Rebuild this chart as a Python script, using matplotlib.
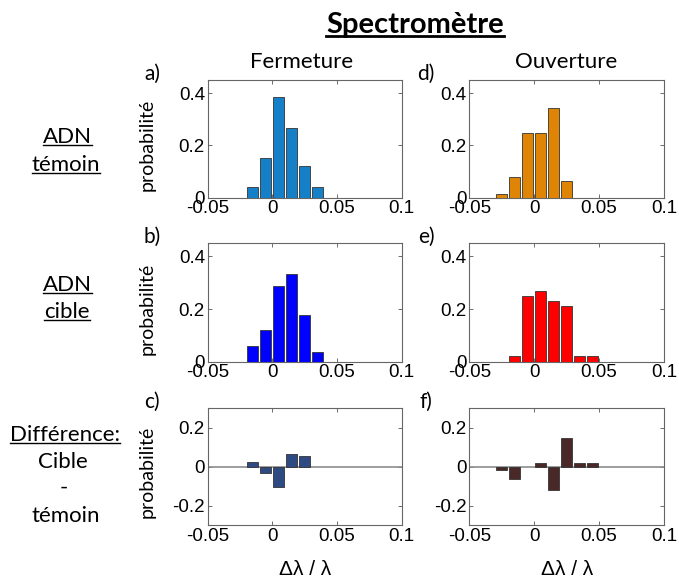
import numpy as np
import matplotlib
matplotlib.use('Agg')
import matplotlib.pyplot as plt
from matplotlib.lines import Line2D

# centres des classes (largeur 0.01)
centres_a = [-0.015, -0.005, 0.005, 0.015, 0.025, 0.035]
temoin_ferm = [0.041, 0.152, 0.385, 0.266, 0.121, 0.041]
cible_ferm = [0.061, 0.121, 0.286, 0.332, 0.178, 0.036]
diff_ferm = [0.024, -0.034, -0.106, 0.066, 0.056, 0.0]

centres_d = [-0.025, -0.015, -0.005, 0.005, 0.015, 0.025, 0.035, 0.045]
temoin_ouv = [0.013, 0.081, 0.247, 0.247, 0.342, 0.065, 0.0, 0.0]
cible_ouv = [0.0, 0.020, 0.249, 0.267, 0.230, 0.212, 0.020, 0.020]
diff_ouv = [-0.019, -0.065, 0.0, 0.019, -0.121, 0.145, 0.019, 0.019]

xticks = [-0.05, 0, 0.05, 0.1]
xtick_labels = ['-0.05', '0', '0.05', '0.1']

cal = 'Lato'
plt.rcParams['font.family'] = 'Liberation Sans'

fig = plt.figure(figsize=(6.79, 5.81), dpi=100)
W, H = 679.0, 581.0

def ax_at(left, top, right, bottom):
    return fig.add_axes([left / W, 1 - bottom / H, (right - left) / W, (bottom - top) / H])

panels = [
    # (gauche, haut, droite, bas, centres, valeurs, couleur, lettre, diff)
    (207.7, 80, 401.7, 197.7, centres_a, temoin_ferm, '#1580C8', 'a)', False),
    (207.7, 243.3, 401.7, 361.7, centres_a, cible_ferm, '#0000FF', 'b)', False),
    (207.7, 408, 401.7, 525, centres_a, diff_ferm, '#2E4A82', 'c)', True),
    (469.3, 80, 664, 197.7, centres_d, temoin_ouv, '#DF8404', 'd)', False),
    (469.3, 243.3, 664, 361.7, centres_d, cible_ouv, '#FF0000', 'e)', False),
    (469.3, 408, 664, 525, centres_d, diff_ouv, '#4B2828', 'f)', True),
]

for left, top, right, bottom, cx, vals, col, lettre, diff in panels:
    ax = ax_at(left, top, right, bottom)
    cx = np.array(cx)
    vals = np.array(vals)
    m = vals != 0
    ax.bar(cx[m], vals[m], width=0.0085, color=col, edgecolor='#333333', linewidth=0.6, zorder=3)
    ax.set_xlim(-0.05, 0.1)
    ax.set_xticks(xticks)
    ax.set_xticklabels(xtick_labels)
    if diff:
        ax.set_ylim(-0.3, 0.3)
        ax.set_yticks([-0.2, 0, 0.2])
        ax.set_yticklabels(['-0.2', '0', '0.2'])
        ax.axhline(0, color='#8c8c8c', linewidth=1.2, zorder=2)
        ax.set_xlabel('Δλ / λ', fontsize=15)
        ax.xaxis.set_label_coords(0.5, -0.30)
    else:
        ax.set_ylim(0, 0.45)
        ax.set_yticks([0, 0.2, 0.4])
        ax.set_yticklabels(['0', '0.2', '0.4'])
    ax.tick_params(direction='in', top=True, right=True, length=3, width=0.6,
                   color='#555555', labelsize=13.5, pad=2)
    for sp in ax.spines.values():
        sp.set_color('#666666')
        sp.set_linewidth(0.8)
    if left < 300:
        ax.set_ylabel('probabilité', family=cal, fontsize=14)
        ax.yaxis.set_label_coords(-0.27, 0.45)
    lx = 152 if left < 300 else 426
    fig.text(lx / W, 1 - (top - 6) / H, lettre, family=cal, fontsize=15,
             ha='center', va='center')

fig.text(302 / W, 1 - 62 / H, 'Fermeture', family=cal, fontsize=16, ha='center', va='center')
fig.text(566 / W, 1 - 62 / H, 'Ouverture', family=cal, fontsize=16, ha='center', va='center')

title = fig.text(415 / W, 1 - 33 / H, 'Spectromètre', family=cal, fontsize=21,
                 fontweight='bold', ha='center', va='baseline')

# (x centre, ligne de base, texte, souligné)
row_txt = [
    (67, 143, 'ADN', True), (66, 171, 'témoin', True),
    (67, 291, 'ADN', True), (67, 318, 'cible', True),
    (65, 441, 'Différence:', True), (63, 468, 'Cible', False),
    (64, 494, '-', False), (66, 522, 'témoin', False),
]
souligne = [title]
for x, y, s, u in row_txt:
    t = fig.text(x / W, 1 - y / H, s, family=cal, fontsize=16, ha='center', va='baseline')
    if u:
        souligne.append(t)

# soulignement
fig.canvas.draw()
r = fig.canvas.get_renderer()
for t in souligne:
    bb = t.get_window_extent(renderer=r)
    lw = 2.0 if t is title else 1.0
    y0 = bb.y0 + 2
    fig.add_artist(Line2D([bb.x0 / W, bb.x1 / W], [y0 / H, y0 / H], color='black',
                          linewidth=lw, transform=fig.transFigure))

fig.savefig('out.png', dpi=100)
